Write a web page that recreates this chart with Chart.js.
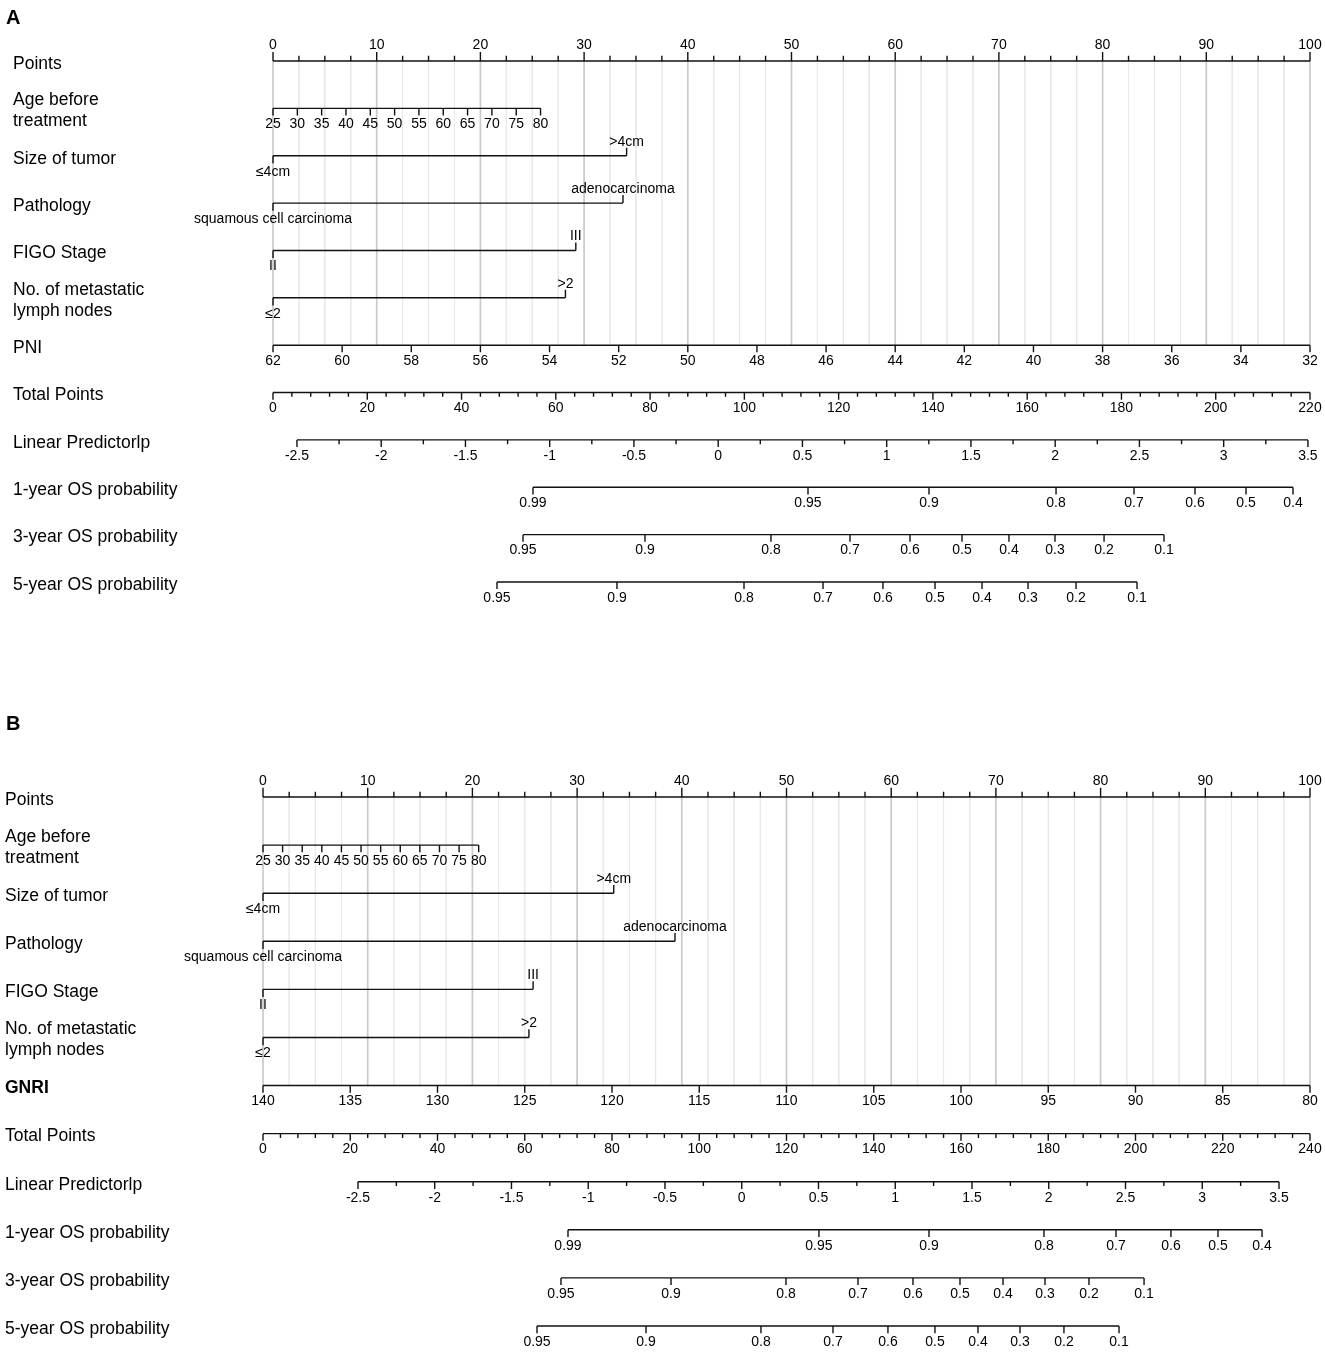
<!DOCTYPE html>
<html>
<head>
<meta charset="utf-8">
<title>Nomogram</title>
<script src="https://cdn.jsdelivr.net/npm/chart.js@4.4.1/dist/chart.umd.min.js"></script>
<style>
  body { margin: 0; background: #fff; }
  .panel { position: absolute; left: 0; width: 1325px; }
  #panelA { top: 0; height: 660px; }
  #panelB { top: 700px; height: 652px; }
</style>
</head>
<body>
<div class="panel" id="panelA"><canvas id="chartA" width="1325" height="660"></canvas></div>
<div class="panel" id="panelB"><canvas id="chartB" width="1325" height="652"></canvas></div>
<script>
// ---- data ----
const rowNamesA = ['Points', 'Age before\ntreatment', 'Size of tumor', 'Pathology', 'FIGO Stage',
  'No. of metastatic\nlymph nodes', 'PNI', 'Total Points', 'Linear Predictorlp',
  '1-year OS probability', '3-year OS probability', '5-year OS probability'];
const rowNamesB = ['Points', 'Age before\ntreatment', 'Size of tumor', 'Pathology', 'FIGO Stage',
  'No. of metastatic\nlymph nodes', 'GNRI', 'Total Points', 'Linear Predictorlp',
  '1-year OS probability', '3-year OS probability', '5-year OS probability'];

const pointsTicks = [0, 10, 20, 30, 40, 50, 60, 70, 80, 90, 100];
const ageTicks = [25, 30, 35, 40, 45, 50, 55, 60, 65, 70, 75, 80];
const sizeLabels = ['≤4cm', '>4cm'];
const pathologyLabels = ['squamous cell carcinoma', 'adenocarcinoma'];
const figoLabels = ['II', 'III'];
const nodeLabels = ['≤2', '>2'];
const pniTicks = [62, 60, 58, 56, 54, 52, 50, 48, 46, 44, 42, 40, 38, 36, 34, 32];
const gnriTicks = [140, 135, 130, 125, 120, 115, 110, 105, 100, 95, 90, 85, 80];
const totalTicksA = [0, 20, 40, 60, 80, 100, 120, 140, 160, 180, 200, 220];
const totalTicksB = [0, 20, 40, 60, 80, 100, 120, 140, 160, 180, 200, 220, 240];
const lpTicks = [-2.5, -2, -1.5, -1, -0.5, 0, 0.5, 1, 1.5, 2, 2.5, 3, 3.5];
const os1Labels = ['0.99', '0.95', '0.9', '0.8', '0.7', '0.6', '0.5', '0.4'];
const os3Labels = ['0.95', '0.9', '0.8', '0.7', '0.6', '0.5', '0.4', '0.3', '0.2', '0.1'];
const os5Labels = ['0.95', '0.9', '0.8', '0.7', '0.6', '0.5', '0.4', '0.3', '0.2', '0.1'];

// positions on the 0-100 Points axis (panel A)
const agePtsA = [0, 25.8];        // age 25, age 80
const sizePtsA = [0, 34.1];
const pathologyPtsA = [0, 33.75];
const figoPtsA = [0, 29.2];
const nodePtsA = [0, 28.2];
const pniPtsA = [0, 100];         // 62, 32
const totalPtsA = [0, 100];       // 0, 220
const lpPtsA = [2.31, 99.8];      // -2.5, 3.5
const os1PtsA = [25.07, 51.59, 63.26, 75.51, 83.03, 88.91, 93.83, 98.36];
const os3PtsA = [24.11, 35.87, 48.02, 55.64, 61.43, 66.44, 70.97, 75.41, 80.14, 85.92];
const os5PtsA = [21.60, 33.17, 45.42, 53.04, 58.82, 63.84, 68.37, 72.81, 77.44, 83.32];

// positions on the 0-100 Points axis (panel B)
const agePtsB = [0, 20.6];
const sizePtsB = [0, 33.5];
const pathologyPtsB = [0, 39.35];
const figoPtsB = [0, 25.8];
const nodePtsB = [0, 25.4];
const gnriPtsB = [0, 100];        // 140, 80
const totalPtsB = [0, 100];       // 0, 240
const lpPtsB = [9.07, 97.04];
const os1PtsB = [29.13, 53.10, 63.61, 74.59, 81.47, 86.72, 91.21, 95.42];
const os3PtsB = [28.46, 38.97, 49.95, 56.83, 62.08, 66.57, 70.68, 74.69, 78.89, 84.15];
const os5PtsB = [26.17, 36.58, 47.56, 54.44, 59.69, 64.18, 68.29, 72.30, 76.50, 81.76];

// ---- helpers ----
function lin(values, ends) {
  const v0 = values[0], v1 = values[values.length - 1];
  return values.map(v => ends[0] + (v - v0) / (v1 - v0) * (ends[1] - ends[0]));
}
function steps(from, to, by) {
  const out = [];
  for (let v = from; v <= to + 1e-9; v += by) out.push(v);
  return out;
}
function fmt(v) { return String(v); }

function buildRows(p) {
  return [
    { kind: 'up', labels: pointsTicks.map(fmt), pts: pointsTicks, minor: steps(0, 100, 2.5) },
    { kind: 'down', labels: ageTicks.map(fmt), pts: lin(ageTicks, p.age) },
    { kind: 'cat', labels: sizeLabels, pts: p.size },
    { kind: 'cat', labels: pathologyLabels, pts: p.path },
    { kind: 'cat', labels: figoLabels, pts: p.figo },
    { kind: 'cat', labels: nodeLabels, pts: p.node },
    { kind: 'down', labels: p.nutr.map(fmt), pts: lin(p.nutr, p.nutrPts) },
    { kind: 'down', labels: p.total.map(fmt), pts: lin(p.total, p.totalPts),
      minor: lin(steps(0, p.total[p.total.length - 1], 4), p.totalPts) },
    { kind: 'down', labels: lpTicks.map(fmt), pts: lin(lpTicks, p.lp),
      minor: lin(steps(-2.5, 3.5, 0.25), p.lp) },
    { kind: 'down', labels: os1Labels, pts: p.os1 },
    { kind: 'down', labels: os3Labels, pts: p.os3 },
    { kind: 'down', labels: os5Labels, pts: p.os5 }
  ];
}

const GAP = { x: null, y: null };

function buildDatasets(rows) {
  const axisData = [];
  rows.forEach((r, i) => {
    const lo = Math.min(...r.pts), hi = Math.max(...r.pts);
    axisData.push({ x: lo, y: i }, { x: hi, y: i }, GAP);
    if (r.kind === 'cat') {
      axisData.push({ x: r.pts[0], y: i }, { x: r.pts[0], y: i + 0.16 }, GAP);
      axisData.push({ x: r.pts[1], y: i }, { x: r.pts[1], y: i - 0.17 }, GAP);
      return;
    }
    const dir = r.kind === 'up' ? -1 : 1;
    const major = r.kind === 'up' ? 0.19 : 0.15;
    const minorLen = r.kind === 'up' ? 0.11 : 0.09;
    r.pts.forEach(p => axisData.push({ x: p, y: i }, { x: p, y: i + dir * major }, GAP));
    (r.minor || []).forEach(p => axisData.push({ x: p, y: i }, { x: p, y: i + dir * minorLen }, GAP));
  });

  const gridDark = [], gridLight = [];
  steps(0, 100, 2.5).forEach(p => {
    const target = Math.abs(p % 10) < 1e-6 ? gridDark : gridLight;
    target.push({ x: p, y: 0 }, { x: p, y: 6 }, GAP);
  });

  const common = { showLine: true, pointRadius: 0, spanGaps: false, clip: false, borderCapStyle: 'butt' };
  return [
    Object.assign({ label: 'axes', data: axisData, borderColor: '#111111', borderWidth: 1.4, order: 0 }, common),
    Object.assign({ label: 'grid major', data: gridDark, borderColor: '#cacaca', borderWidth: 1.7, order: 5 }, common),
    Object.assign({ label: 'grid minor', data: gridLight, borderColor: '#e9e9e9', borderWidth: 1, order: 6 }, common)
  ];
}

const textPlugin = {
  id: 'nomoText',
  afterDatasetsDraw(chart, args, opts) {
    const ctx = chart.ctx, xs = chart.scales.x, ys = chart.scales.y;
    ctx.save();
    ctx.fillStyle = '#000';
    ctx.textBaseline = 'middle';

    // panel letter
    ctx.font = 'bold 20px "Liberation Sans", Arial, sans-serif';
    ctx.textAlign = 'left';
    ctx.fillText(opts.letter, 6, opts.letterY);

    // row names
    opts.names.forEach((name, i) => {
      const y = ys.getPixelForValue(i);
      ctx.font = (opts.boldRow === i ? 'bold ' : '') + '17.5px "Liberation Sans", Arial, sans-serif';
      const lines = name.split('\n');
      if (lines.length === 1) {
        ctx.fillText(name, opts.nameX, y + 3);
      } else {
        ctx.fillText(lines[0], opts.nameX, y - 8);
        ctx.fillText(lines[1], opts.nameX, y + 13);
      }
    });

    // tick labels
    ctx.font = '14px "Liberation Sans", Arial, sans-serif';
    ctx.textAlign = 'center';
    opts.rows.forEach((r, i) => {
      const y = ys.getPixelForValue(i);
      r.labels.forEach((lab, k) => {
        const x = xs.getPixelForValue(r.pts[k]);
        let ty;
        if (r.kind === 'up') ty = y - 16;
        else if (r.kind === 'cat') ty = k === 0 ? y + 16 : y - 14;
        else ty = y + 16;
        ctx.fillText(lab, x, ty);
      });
    });
    ctx.restore();
  }
};

function makeChart(id, rows, names, pad, letter, letterY, nameX, boldRow) {
  return new Chart(document.getElementById(id), {
    type: 'scatter',
    data: { datasets: buildDatasets(rows) },
    options: {
      responsive: false,
      animation: false,
      events: [],
      layout: { padding: pad },
      scales: {
        x: { type: 'linear', min: 0, max: 100, display: false },
        y: { type: 'linear', min: 0, max: 11, reverse: true, display: false }
      },
      plugins: {
        legend: { display: false },
        tooltip: { enabled: false },
        nomoText: { rows: rows, names: names, letter: letter, letterY: letterY, nameX: nameX, boldRow: boldRow }
      }
    },
    plugins: [textPlugin]
  });
}

const rowsA = buildRows({
  age: agePtsA, size: sizePtsA, path: pathologyPtsA, figo: figoPtsA, node: nodePtsA,
  nutr: pniTicks, nutrPts: pniPtsA, total: totalTicksA, totalPts: totalPtsA, lp: lpPtsA,
  os1: os1PtsA, os3: os3PtsA, os5: os5PtsA
});
const rowsB = buildRows({
  age: agePtsB, size: sizePtsB, path: pathologyPtsB, figo: figoPtsB, node: nodePtsB,
  nutr: gnriTicks, nutrPts: gnriPtsB, total: totalTicksB, totalPts: totalPtsB, lp: lpPtsB,
  os1: os1PtsB, os3: os3PtsB, os5: os5PtsB
});

makeChart('chartA', rowsA, rowNamesA, { left: 273, right: 15, top: 61, bottom: 78 }, 'A', 18, 13, -1);
makeChart('chartB', rowsB, rowNamesB, { left: 263, right: 15, top: 97, bottom: 26 }, 'B', 24, 5, 6);
</script>
</body>
</html>
